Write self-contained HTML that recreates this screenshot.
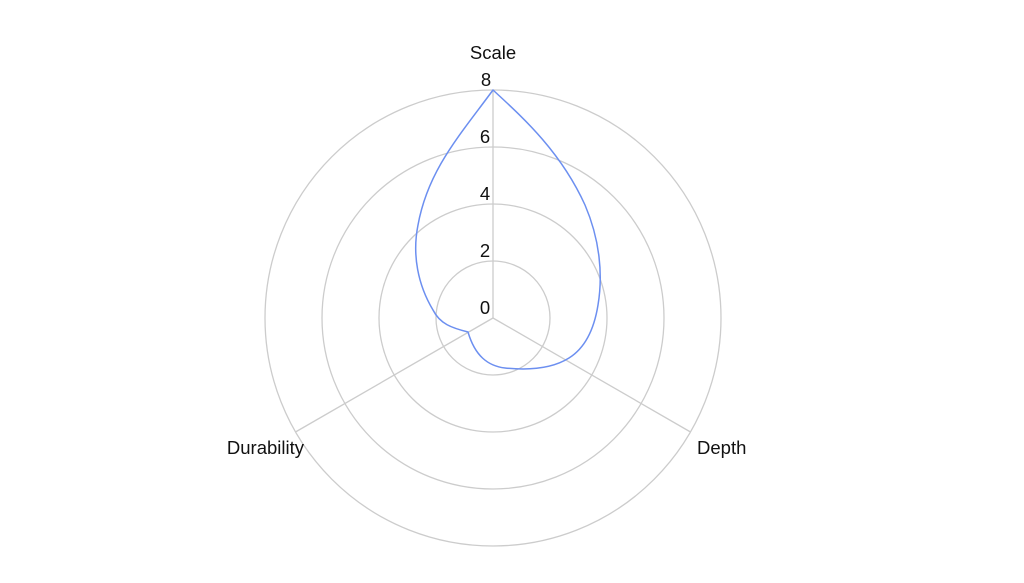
<!DOCTYPE html>
<html><head><meta charset="utf-8"><style>
html,body{margin:0;padding:0;background:#fff;}
svg text{font-family:"Liberation Sans",sans-serif;fill:#111;}
</style></head><body>
<svg width="1024" height="578" viewBox="0 0 1024 578" xmlns="http://www.w3.org/2000/svg">
<g fill="none" stroke="#cccccc" stroke-width="1.3">
<circle cx="493" cy="318" r="57"/>
<circle cx="493" cy="318" r="114"/>
<circle cx="493" cy="318" r="171"/>
<circle cx="493" cy="318" r="228"/>
<line x1="493" y1="318" x2="493" y2="90"/>
<line x1="493" y1="318" x2="690.5" y2="432"/>
<line x1="493" y1="318" x2="295.5" y2="432"/>
</g>
<path fill="none" stroke="#6c8ff0" stroke-width="1.5" stroke-linejoin="round"
d="M493,90 C520,115 560,150 585,205 C600,240 603,275 598,305 C594,330 585,348 569,358 C550,370 525,370 505,368 C488,366 475,356 468,332 C452,328 440,324 433,310 C418,285 412,255 418,225 C428,170 460,135 493,90 Z"/>
<g font-size="18.5" text-anchor="middle">
<text x="493" y="59">Scale</text>
<text x="486" y="86">8</text>
<text x="485" y="143">6</text>
<text x="485" y="200">4</text>
<text x="485" y="257">2</text>
<text x="485" y="314">0</text>
</g>
<text x="304" y="454" font-size="18.5" text-anchor="end">Durability</text>
<text x="697" y="454" font-size="18.5">Depth</text>
</svg>
</body></html>
